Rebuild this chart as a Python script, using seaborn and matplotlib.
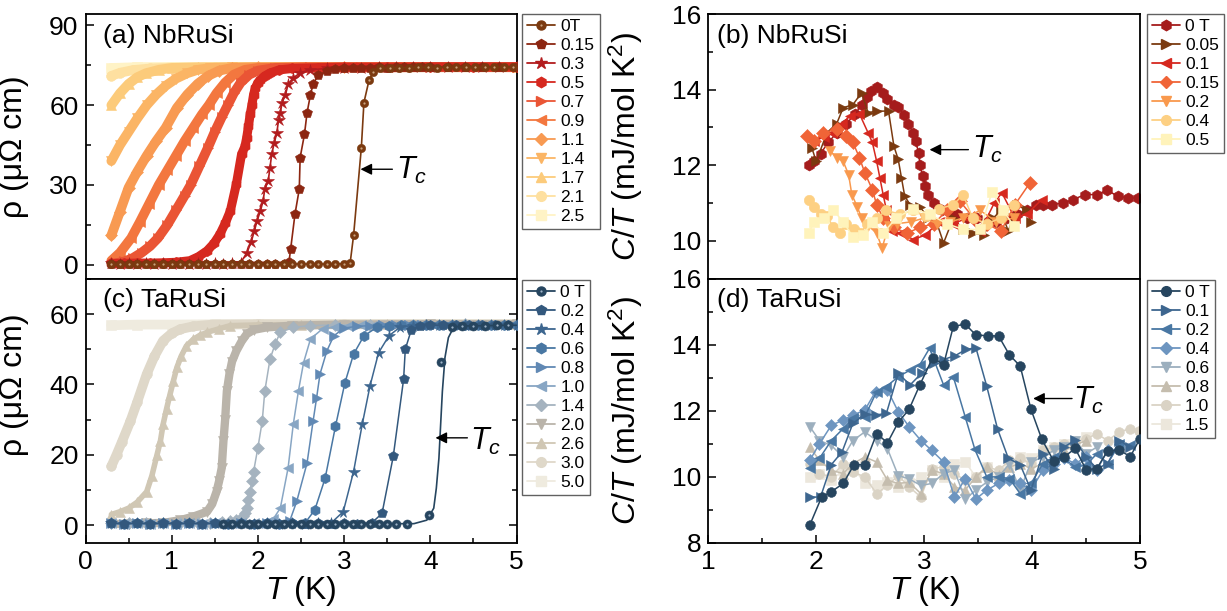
import matplotlib
matplotlib.use("Agg")
import matplotlib.pyplot as plt
from matplotlib.lines import Line2D
from matplotlib.ticker import MultipleLocator
import seaborn as sns

# ---------------- data: (a) NbRuSi resistivity ----------------
a_fields = ["0T", "0.15", "0.3", "0.5", "0.7", "0.9", "1.1", "1.4", "1.7", "2.1", "2.5"]
a_T_00 = [0.30,0.40,0.50,0.60,0.70,0.80,0.90,1.00,1.10,1.20,1.30,1.40,1.50,1.60,1.70,1.80,1.90,2.00,2.10,2.20,2.30,2.40,2.50,2.60,2.70,2.80,2.90,3.00,
          3.07,3.11,3.20,3.23,3.29,3.34,
          3.42,3.53,3.64,3.75,3.86,3.97,4.08,4.19,4.30,4.41,4.52,4.63,4.74,4.85,4.96]
a_R_00 = [0.3,0.2,0.3,0.2,0.2,0.3,0.2,0.2,0.3,0.2,0.2,0.3,0.2,0.2,0.3,0.2,0.2,0.3,0.2,0.2,0.3,0.2,0.3,0.2,0.3,0.2,0.3,0.3,
          0.6,11.0,44.0,61.0,69.5,72.5,
          73.8,74.0,74.1,74.1,74.2,74.2,74.1,74.2,74.2,74.3,74.2,74.3,74.3,74.2,74.3]
a_T_015 = [0.30,0.40,0.50,0.60,0.70,0.80,0.90,1.00,1.10,1.20,1.30,1.40,1.50,1.60,1.70,1.80,1.90,2.00,2.10,2.20,2.30,
           2.36,2.38,2.43,2.48,2.49,2.54,2.57,2.61,2.64,2.70,2.80,2.90,
           3.00,3.10,3.20,3.30,3.40,3.50,3.60,3.70,3.80,3.90,4.00,4.20,4.40,4.60,4.80,5.00]
a_R_015 = [0.4,0.3,0.4,0.3,0.4,0.3,0.4,0.3,0.4,0.3,0.4,0.3,0.4,0.3,0.4,0.3,0.4,0.3,0.4,0.3,0.4,
           0.9,5.9,19.0,28.4,40.3,49.0,57.1,64.0,67.8,71.5,72.7,73.5,
           73.8,74.0,74.1,74.1,74.2,74.1,74.2,74.2,74.3,74.2,74.3,74.3,74.2,74.3,74.3,74.3]
a_T_03 = [0.30,0.40,0.50,0.60,0.70,0.80,0.90,1.00,1.10,1.20,1.30,1.40,1.50,1.60,1.70,1.80,
          1.87,1.92,1.96,1.99,2.03,2.06,2.08,2.12,2.14,2.16,2.19,2.22,2.24,2.26,2.28,2.32,2.35,2.41,2.49,
          2.60,2.80,3.00,3.20,3.40,3.60,3.80,4.00,4.20,4.40,4.60,4.80,5.00]
a_R_03 = [0.5,0.4,0.5,0.4,0.5,0.4,0.5,0.4,0.5,0.4,0.5,0.4,0.5,0.4,0.5,0.8,
          4.3,8.4,12.8,16.5,20.3,24.0,28.4,31.5,36.5,41.5,45.9,49.6,54.6,57.1,60.9,64.0,67.8,70.3,72.1,
          73.3,73.8,74.0,74.1,74.2,74.2,74.3,74.2,74.3,74.3,74.4,74.3,74.4]
a_T_05 = [0.30,0.45,0.60,0.75,0.90,1.05,1.21,1.31,1.41,1.49,1.56,1.62,1.68,1.75,1.81,1.85,1.87,1.89,1.91,1.93,1.95,1.97,2.00,2.03,2.08,2.14,2.25,2.40,2.70,3.00,3.50,4.00,4.50,5.00]
a_R_05 = [0.5,0.5,0.6,0.6,0.7,0.9,1.5,3.0,5.2,8.0,11.5,15.5,20.2,30.3,41.5,44.5,47.8,52.0,56.5,60.0,64.0,66.5,68.5,69.6,71.0,72.1,73.3,73.8,74.1,74.3,74.3,74.4,74.4,74.4]
a_T_07 = [0.35,0.45,0.55,0.65,0.75,0.84,0.95,1.05,1.15,1.22,1.32,1.42,1.50,1.58,1.65,1.72,1.80,1.90,2.00,2.20,2.60,3.20,4.00,5.00]
a_R_07 = [0.5,1.2,2.5,4.5,7.0,10.0,15.0,20.5,26.0,30.0,37.0,44.0,50.0,55.5,60.0,64.5,68.5,71.5,73.0,74.0,74.2,74.2,74.3,74.3]
a_T_09 = [0.30,0.40,0.53,0.63,0.74,0.85,0.95,1.05,1.15,1.25,1.35,1.43,1.52,1.62,1.72,1.85,2.00,2.50,3.50,5.00]
a_R_09 = [1.5,4.5,10.0,16.0,23.0,30.0,35.5,41.0,46.5,51.5,56.5,60.0,64.5,68.5,71.5,73.3,74.0,74.2,74.3,74.3]
a_T_11 = [0.30,0.40,0.50,0.60,0.71,0.82,0.93,1.06,1.18,1.30,1.42,1.55,1.70,2.00,3.00,5.00]
a_R_11 = [11.0,20.0,29.0,35.0,41.0,46.5,51.5,59.0,64.0,68.0,71.0,73.0,74.0,74.2,74.3,74.3]
a_T_14 = [0.30,0.40,0.50,0.60,0.71,0.82,0.93,1.05,1.18,1.30,1.45,1.70,2.50,4.00,5.00]
a_R_14 = [39.0,45.0,50.0,55.0,60.0,64.0,67.3,70.0,72.0,73.3,74.0,74.2,74.3,74.3,74.3]
a_T_17 = [0.30,0.40,0.50,0.60,0.70,0.85,1.00,1.30,2.00,5.00]
a_R_17 = [60.0,64.5,68.0,70.5,72.0,73.3,74.0,74.2,74.3,74.3]
a_T_21 = [0.30,0.40,0.55,0.75,1.00,1.50,5.00]
a_R_21 = [71.0,72.2,73.2,73.8,74.1,74.3,74.3]
a_T_25 = [0.30,0.60,1.00,5.00]
a_R_25 = [74.0,74.3,74.4,74.4]

# ---------------- data: (c) TaRuSi resistivity ----------------
c_fields = ["0 T", "0.2", "0.4", "0.6", "0.8", "1.0", "1.4", "2.0", "2.6", "3.0", "5.0"]
c_T_00 = [1.60,1.70,1.80,1.90,2.00,2.10,2.20,2.30,2.40,2.50,2.60,2.70,2.80,2.90,3.00,3.10,3.20,3.30,3.40,3.50,3.60,3.73,
          3.98,4.12,
          4.25,4.37,4.50,4.64,4.77,4.90]
c_R_00 = [0.4,0.3,0.4,0.3,0.4,0.3,0.4,0.3,0.4,0.3,0.4,0.3,0.4,0.3,0.4,0.3,0.4,0.3,0.4,0.3,0.4,0.4,
          3.0,46.5,
          56.3,56.6,56.7,56.7,56.8,56.8]
c_fit_T = [1.60,3.81,3.96,4.04,4.07,4.10,4.12,4.14,4.17,4.21,4.27,4.35,5.00]
c_fit_R = [0.4,0.4,1.4,4.8,10.5,19.0,28.6,38.0,47.6,53.3,56.2,56.6,56.8]
c_T_02 = [0.30,0.45,0.60,0.75,0.90,1.05,1.20,1.35,1.50,1.65,1.80,1.95,2.10,2.25,2.40,2.55,2.70,2.85,3.00,3.15,3.32,
          3.44,3.57,3.69,3.71,3.78,
          3.88,4.00,4.15,4.30,4.45,4.60,4.75,4.90]
c_R_02 = [0.5,0.4,0.5,0.4,0.5,0.4,0.5,0.4,0.5,0.4,0.5,0.4,0.5,0.4,0.5,0.4,0.5,0.4,0.5,0.4,0.6,
          3.3,19.5,41.4,50.0,55.5,
          56.6,56.8,56.8,56.9,56.9,56.9,57.0,57.0]
c_T_04 = [0.30,0.45,0.60,0.75,0.90,1.05,1.20,1.35,1.50,1.65,1.80,1.95,2.10,2.25,2.40,2.55,2.70,2.85,
          2.99,3.11,3.21,3.30,3.40,3.52,
          3.65,3.80,3.95,4.10,4.25,4.40,4.55,4.70,4.85,5.00]
c_R_04 = [0.5,0.4,0.5,0.4,0.5,0.4,0.5,0.4,0.5,0.4,0.5,0.4,0.5,0.4,0.5,0.4,0.5,0.6,
          3.8,15.2,28.6,39.5,49.0,53.8,
          56.3,56.7,56.8,56.8,56.9,56.9,57.0,56.9,57.0,57.0]
c_T_06 = [0.30,0.45,0.60,0.75,0.90,1.05,1.20,1.35,1.50,1.65,1.80,1.95,2.10,2.25,2.40,2.55,
          2.66,2.78,2.90,3.01,3.11,3.23,
          3.38,3.52,3.66,3.80,3.95,4.10,4.25,4.40,4.55,4.70,4.85,5.00]
c_R_06 = [0.5,0.4,0.5,0.4,0.5,0.4,0.5,0.4,0.5,0.4,0.5,0.4,0.5,0.4,0.5,0.7,
          4.3,13.3,28.1,40.5,48.6,53.8,
          56.2,56.6,56.8,56.8,56.9,56.9,57.0,56.9,57.0,57.0,57.0,57.0]
c_T_08 = [0.30,0.45,0.60,0.75,0.90,1.05,1.20,1.35,1.50,1.65,1.80,1.95,2.10,2.25,2.37,
          2.45,2.57,2.64,2.68,2.72,2.80,2.88,
          3.00,3.15,3.30,3.45,3.60,3.75,3.90,4.05,4.20,4.35,4.50,4.65,4.80,4.95]
c_R_08 = [0.5,0.4,0.5,0.4,0.5,0.4,0.5,0.4,0.5,0.4,0.5,0.4,0.5,0.6,1.2,
          6.7,17.6,29.5,36.0,42.9,49.5,53.8,
          56.0,56.5,56.7,56.8,56.8,56.9,56.9,57.0,56.9,57.0,57.0,57.0,57.0,57.0]
c_T_10 = [0.30,0.45,0.60,0.75,0.90,1.05,1.20,1.35,1.50,1.65,1.80,1.95,2.10,2.18,
          2.26,2.35,2.41,2.47,2.53,2.61,
          2.75,2.90,3.05,3.20,3.35,3.50,3.65,3.80,3.95,4.10,4.25,4.40,4.55,4.70,4.85,5.00]
c_R_10 = [0.5,0.4,0.5,0.4,0.5,0.4,0.5,0.4,0.5,0.4,0.5,0.6,0.9,1.8,
          4.8,16.2,28.6,38.1,46.2,52.9,
          55.8,56.4,56.7,56.8,56.8,56.9,56.9,57.0,56.9,57.0,57.0,57.0,57.0,57.0,57.0,57.0]
c_T_14 = [0.30,0.50,0.70,0.90,1.10,1.30,1.45,1.58,1.68,1.75,1.80,1.83,1.85,1.87,1.89,1.91,1.93,1.95,2.00,2.05,2.08,2.14,2.20,2.26,2.41,2.60,2.90,3.30,3.80,4.40,5.00]
c_R_14 = [0.5,0.5,0.5,0.5,0.6,0.6,0.7,0.9,1.1,1.3,1.5,2.5,3.5,4.8,7.0,9.5,12.5,15.2,22.0,29.5,38.1,47.1,51.5,54.8,56.2,56.7,56.9,57.0,57.0,57.1,57.1]
c_T_20 = [0.30,0.50,0.70,0.90,1.10,1.25,1.41,1.47,1.52,1.55,1.58,1.60,1.62,1.64,1.67,1.70,1.75,1.81,1.87,1.95,2.10,2.40,3.00,4.00,5.00]
c_R_20 = [0.3,0.4,0.5,0.6,1.4,2.4,3.8,6.0,9.5,12.5,16.2,23.8,30.0,38.1,43.0,46.5,49.5,52.2,54.3,55.5,56.2,56.7,57.0,57.1,57.1]
c_T_26 = [0.30,0.40,0.50,0.60,0.71,0.77,0.83,0.87,0.90,0.94,0.98,1.02,1.06,1.11,1.17,1.25,1.33,1.41,1.55,1.68,2.00,2.50,3.50,5.00]
c_R_26 = [3.0,3.8,4.8,6.5,9.5,14.0,20.0,24.0,28.6,33.0,37.1,41.0,44.8,48.0,50.9,52.8,54.0,54.8,55.8,56.7,56.9,57.0,57.1,57.1]
c_T_30 = [0.30,0.36,0.42,0.52,0.60,0.71,0.80,0.90,1.00,1.10,1.25,1.48,2.00,3.00,5.00]
c_R_30 = [16.7,20.0,23.5,29.5,35.0,42.9,48.0,52.4,54.5,55.7,56.5,57.0,57.1,57.1,57.1]
c_T_50 = [0.30,0.60,1.00,1.50,2.00,3.00,5.00]
c_R_50 = [56.8,57.0,57.0,57.1,57.1,57.1,57.1]

# ---------------- data: (b) NbRuSi C/T ----------------
b_fields = ["0 T", "0.05", "0.1", "0.15", "0.2", "0.4", "0.5"]
b_T_00 = [1.93,1.98,2.04,2.11,2.19,2.28,2.36,2.42,2.47,2.51,2.56,2.62,2.66,2.72,2.76,2.81,2.85,2.90,2.92,2.95,2.96,2.99,3.01,3.04,3.09,
          3.13,3.17,3.24,3.30,3.40,3.49,3.58,3.67,3.77,3.86,3.95,4.04,4.10,4.18,4.29,4.38,4.49,4.60,4.69,4.80,4.89,4.98]
b_C_00 = [12.0,12.1,12.3,12.6,12.85,13.1,13.35,13.6,13.8,13.95,14.07,13.9,13.75,13.6,13.55,13.34,13.1,12.86,12.63,12.33,12.0,11.7,11.44,11.22,11.0,
          10.87,10.8,10.75,10.7,10.6,10.6,10.5,10.5,10.6,10.7,10.8,10.95,10.95,10.95,11.0,11.09,11.22,11.22,11.33,11.18,11.13,11.13]
b_T_005 = [1.96,2.00,2.10,2.19,2.25,2.34,2.42,2.48,2.56,2.67,2.72,2.76,2.79,2.82,2.87,2.96,3.04,3.12,3.18,3.27,3.36,3.45,3.55,3.64,3.71,3.78,3.86,3.95,3.99]
b_C_005 = [12.45,12.1,12.86,13.1,13.52,13.6,13.92,13.39,13.43,13.43,12.5,12.15,11.66,11.18,10.95,10.9,10.6,10.45,9.94,10.6,10.3,10.2,10.15,10.6,10.8,10.25,10.95,10.8,10.5]
b_T_01 = [1.98,2.07,2.15,2.24,2.31,2.40,2.48,2.52,2.56,2.59,2.62,2.65,2.70,2.79,2.90,3.01,3.14,3.27,3.40,3.52,3.65,3.72,3.84,3.95,4.09]
b_C_01 = [12.63,12.75,12.85,13.1,13.3,13.36,12.86,12.6,12.1,11.66,11.22,10.82,10.25,10.2,10.03,10.15,10.5,10.45,10.6,10.25,11.0,11.27,10.6,10.7,11.09]
b_T_015 = [1.91,1.98,2.06,2.19,2.28,2.34,2.40,2.45,2.52,2.56,2.62,2.72,2.84,2.96,3.09,3.21,3.33,3.46,3.58,3.71,3.84,3.98]
b_C_015 = [12.77,12.63,12.85,12.95,12.77,12.6,12.2,11.8,11.35,10.95,10.6,10.35,10.2,10.35,10.45,10.8,11.05,10.6,10.45,10.25,10.95,11.53]
b_T_02 = [2.13,2.19,2.25,2.30,2.33,2.38,2.42,2.48,2.56,2.61,2.67,2.75,2.88,3.00,3.12,3.24,3.36,3.52,3.67,3.83]
b_C_02 = [12.37,12.2,12.1,11.75,11.22,10.9,10.6,10.4,10.2,9.8,10.4,10.45,10.5,10.6,10.45,10.5,10.6,10.8,10.5,10.6]
b_T_04 = [1.93,1.98,2.04,2.10,2.16,2.22,2.28,2.35,2.41,2.47,2.56,2.65,2.78,2.90,3.02,3.14,3.27,3.36,3.45,3.58,3.71,3.83]
b_C_04 = [11.09,10.9,10.7,10.65,10.35,10.2,10.45,10.3,10.2,10.45,10.6,10.8,10.7,10.8,10.65,10.85,10.95,11.22,10.6,10.45,10.6,10.95]
b_T_05 = [1.93,1.98,2.07,2.16,2.25,2.34,2.43,2.52,2.62,2.74,2.90,3.05,3.21,3.36,3.52,3.63,3.73,3.83]
b_C_05 = [10.2,10.5,10.6,10.8,10.5,10.1,10.15,10.5,10.2,10.6,10.85,10.7,10.45,10.3,10.3,11.3,10.8,10.4]

# ---------------- data: (d) TaRuSi C/T ----------------
d_fields = ["0 T", "0.1", "0.2", "0.4", "0.6", "0.8", "1.0", "1.5"]
d_T_00 = [1.94,2.05,2.14,2.25,2.35,2.45,2.56,2.66,2.76,2.86,2.96,3.08,3.18,3.27,3.38,3.48,3.59,3.69,3.79,3.89,3.99,4.09,4.20,4.30,4.40,4.50,4.60,4.70,4.81,4.91,5.00]
d_C_00 = [8.54,9.39,9.55,9.80,10.37,10.37,11.31,11.03,11.65,12.04,12.78,13.61,13.39,14.55,14.62,14.29,14.27,14.26,13.69,13.35,12.04,11.14,10.48,10.61,10.86,10.22,10.25,10.79,10.81,10.61,11.16]
d_T_01 = [1.94,2.04,2.14,2.24,2.34,2.45,2.55,2.65,2.76,2.87,2.98,3.09,3.18,3.29,3.39,3.48,3.58,3.68,3.78,3.89,3.99,4.10,4.20,4.30,4.40,4.50,4.60,4.70,4.81,4.91]
d_C_01 = [9.39,9.39,10.37,10.76,11.62,11.89,11.87,11.92,13.13,12.78,13.15,13.44,13.55,13.67,13.86,13.9,12.74,11.45,10.56,10.37,9.6,10.7,10.25,10.91,11.11,10.6,10.25,10.4,11.1,10.9]
d_T_02 = [1.94,2.03,2.14,2.25,2.34,2.45,2.56,2.65,2.76,2.87,2.96,3.05,3.18,3.27,3.38,3.47,3.58,3.69,3.79,3.89,3.99,4.10,4.20,4.29,4.40,4.50,4.60,4.70,4.81,4.91]
d_C_02 = [10.26,10.56,11.1,11.46,11.77,11.82,12.58,12.73,13.03,13.23,13.39,13.89,12.78,13.03,11.82,10.83,10.0,10.0,9.95,9.49,9.8,10.4,10.6,10.56,10.3,10.35,10.7,10.4,11.0,10.96]
d_T_04 = [1.94,2.03,2.14,2.25,2.34,2.45,2.55,2.66,2.76,2.86,2.97,3.07,3.18,3.28,3.38,3.48,3.58,3.69,3.79,3.89,3.99,4.10,4.20,4.30,4.40,4.50,4.60,4.70]
d_C_04 = [10.5,11.0,11.56,11.72,11.87,12.02,12.58,12.63,11.97,11.52,11.1,10.8,10.45,9.39,9.95,9.33,9.6,9.8,9.9,9.8,9.6,10.2,10.4,10.56,10.4,10.6,10.2,10.8]
d_T_06 = [1.94,2.03,2.14,2.25,2.34,2.45,2.56,2.66,2.76,2.86,2.97,3.07,3.18,3.28,3.38,3.48,3.58,3.69,3.79,3.89,3.99,4.10,4.20,4.30,4.40,4.50,4.60]
d_C_06 = [11.52,11.1,10.95,10.6,11.1,11.36,11.1,10.85,10.04,9.94,9.74,9.8,10.1,10.2,9.33,9.6,9.84,10.0,10.4,9.6,10.45,10.6,10.8,10.9,11.1,10.7,10.9]
d_T_08 = [1.94,2.03,2.14,2.25,2.34,2.45,2.56,2.66,2.76,2.86,2.97,3.07,3.18,3.28,3.38,3.48,3.58,3.69,3.79,3.89,3.99,4.10,4.20,4.30,4.40,4.50]
d_C_08 = [10.9,10.5,10.2,10.1,10.4,10.6,10.45,9.9,9.8,9.84,9.49,10.2,10.1,9.7,9.6,10.0,10.3,10.05,10.3,10.4,10.25,10.4,10.6,10.8,10.96,11.1]
d_T_10 = [1.94,2.03,2.14,2.25,2.34,2.45,2.56,2.66,2.76,2.86,2.97,3.07,3.18,3.28,3.38,3.48,3.58,3.69,3.79,3.89,3.99,4.10,4.20,4.30,4.40,4.50,4.60,4.70,4.81,4.91,4.99]
d_C_10 = [10.4,10.1,10.0,10.4,10.15,10.0,9.49,9.74,10.04,9.7,9.39,10.25,10.3,10.1,9.9,10.0,10.3,10.2,10.5,10.56,10.4,10.8,10.9,11.0,11.05,11.15,11.3,11.1,11.36,11.46,11.4]
d_T_15 = [1.94,2.03,2.14,2.25,2.34,2.45,2.56,2.66,2.76,2.86,2.97,3.07,3.18,3.28,3.38,3.48,3.58,3.69,3.79,3.89,3.99,4.10,4.20,4.30,4.40,4.50]
d_C_15 = [10.0,10.1,9.9,10.2,10.3,9.8,9.74,9.84,9.7,9.8,10.0,10.2,10.0,10.4,10.45,10.0,10.3,9.9,10.4,10.6,10.56,10.8,10.9,11.0,11.1,11.2]

# ---------------- styling ----------------
sns.set_theme(style="ticks")
plt.rcParams['font.family'] = ['Liberation Sans', 'DejaVu Sans']
plt.rcParams['mathtext.fontset'] = 'custom'
plt.rcParams['mathtext.rm'] = 'Liberation Sans'
plt.rcParams['mathtext.it'] = 'Liberation Sans:italic'
plt.rcParams['mathtext.bf'] = 'Liberation Sans:bold'
for k in ['text.color', 'axes.labelcolor', 'xtick.color', 'ytick.color', 'axes.edgecolor']:
    plt.rcParams[k] = 'black'

a_colors = ['#7b3a10', '#8c2611', '#b21c1e', '#d6281f', '#ea5535', '#f3773f', '#f89a52', '#fbb565', '#fccb7b', '#fee0a0', '#fff3c6']
a_markers = ['o', 'p', '*', 'h', '>', '<', 'D', 'v', '^', 'o', 's']
b_colors = ['#a51c1c', '#7b3a10', '#d6281f', '#f06437', '#f9994d', '#fdd083', '#fff3bb']
b_markers = ['h', '>', '<', 'D', 'v', 'o', 's']
c_colors = ['#26455f', '#33587d', '#3d668f', '#4977a3', '#6189b4', '#88a6c4', '#a5b3bf', '#bab4aa', '#d0c7b4', '#dfd8c9', '#efebdf']
c_markers = ['o', 'p', '*', 'h', '>', '<', 'D', 'v', '^', 'o', 's']
d_colors = ['#26455f', '#3d668f', '#4977a3', '#6d95c0', '#9cafbe', '#c5bdae', '#dad3c5', '#ece7dc']
d_markers = ['o', '>', '<', 'D', 'v', '^', 'o', 's']
a_spot = '#c9a27e'
c_spot = '#9fb4c9'

W, H = 1227, 611
fig = plt.figure(figsize=(W / 100, H / 100), dpi=100)

def ax_at(x0, y0, x1, y1):
    return fig.add_axes([x0 / W, 1 - y1 / H, (x1 - x0) / W, (y1 - y0) / H])

ax_a = ax_at(85.5, 14, 516.5, 278.5)
ax_c = ax_at(85.5, 278.5, 516.5, 543)
ax_b = ax_at(708.3, 14, 1140, 278.5)
ax_d = ax_at(708.3, 278.5, 1140, 543)


def curve(ax, T, Y, color, marker, ms, lw, z=2):
    sns.lineplot(x=T, y=Y, ax=ax, color=color, marker=marker, markersize=ms,
                 markeredgecolor=color, markeredgewidth=0.4, linewidth=lw,
                 estimator=None, sort=False, legend=False, zorder=z,
                 solid_capstyle='round', solid_joinstyle='round')


def highlight(ax, T, Y, color, z=3):
    sns.lineplot(x=T, y=Y, ax=ax, color=color, marker='o', markersize=1.6,
                 markeredgewidth=0, linewidth=0, estimator=None, sort=False,
                 legend=False, zorder=z)

# ---- (a)
a_data = [(a_T_00, a_R_00), (a_T_015, a_R_015), (a_T_03, a_R_03), (a_T_05, a_R_05), (a_T_07, a_R_07),
          (a_T_09, a_R_09), (a_T_11, a_R_11), (a_T_14, a_R_14), (a_T_17, a_R_17), (a_T_21, a_R_21), (a_T_25, a_R_25)]
a_ms = [6, 7.5, 9, 7.5, 7, 7, 6, 7, 7, 7, 6.5]
a_lw = [1.2, 1.2, 1.2, 6.5, 7, 7, 7, 7, 7, 7, 7]
for i in range(len(a_data) - 1, -1, -1):
    T, R = a_data[i]
    curve(ax_a, T, R, a_colors[i], a_markers[i], a_ms[i], a_lw[i], z=2 + (11 - i) * 0.1)
highlight(ax_a, a_T_00, a_R_00, a_spot, z=4)

# ---- (c)
c_data = [(c_T_00, c_R_00), (c_T_02, c_R_02), (c_T_04, c_R_04), (c_T_06, c_R_06), (c_T_08, c_R_08),
          (c_T_10, c_R_10), (c_T_14, c_R_14), (c_T_20, c_R_20), (c_T_26, c_R_26), (c_T_30, c_R_30), (c_T_50, c_R_50)]
c_ms = [6.5, 7.5, 8.5, 7.5, 7.5, 7.5, 6, 7, 7, 7, 6.5]
c_lw = [0, 1.1, 1.1, 1.1, 1.1, 1.1, 1.1, 6, 4, 7, 7]
for i in range(len(c_data) - 1, -1, -1):
    T, R = c_data[i]
    curve(ax_c, T, R, c_colors[i], c_markers[i], c_ms[i], c_lw[i], z=2 + (11 - i) * 0.1)
sns.lineplot(x=c_fit_T, y=c_fit_R, ax=ax_c, color=c_colors[0], linewidth=1.2,
             estimator=None, sort=False, legend=False, zorder=3.5)
highlight(ax_c, c_T_00, c_R_00, c_spot, z=4)

# ---- (b)
b_data = [(b_T_00, b_C_00), (b_T_005, b_C_005), (b_T_01, b_C_01), (b_T_015, b_C_015),
          (b_T_02, b_C_02), (b_T_04, b_C_04), (b_T_05, b_C_05)]
b_ms = [8, 7.5, 7.5, 7, 7.5, 7.5, 7]
for i, (T, C) in enumerate(b_data):
    curve(ax_b, T, C, b_colors[i], b_markers[i], b_ms[i], 1.1, z=2 + i * 0.1)

# ---- (d)
d_data = [(d_T_00, d_C_00), (d_T_01, d_C_01), (d_T_02, d_C_02), (d_T_04, d_C_04),
          (d_T_06, d_C_06), (d_T_08, d_C_08), (d_T_10, d_C_10), (d_T_15, d_C_15)]
d_ms = [7, 7.5, 7.5, 6.5, 7.5, 7.5, 7, 6.5]
for i in range(len(d_data) - 1, -1, -1):
    T, C = d_data[i]
    curve(ax_d, T, C, d_colors[i], d_markers[i], d_ms[i], 1.1, z=2 + (8 - i) * 0.1)

# ---------------- axes formatting ----------------
TICK_FS = 19
LABEL_FS = 23

for ax in (ax_a, ax_c):
    ax.set_xlim(0, 5)
    ax.xaxis.set_major_locator(MultipleLocator(1))
    ax.xaxis.set_minor_locator(MultipleLocator(0.5))
for ax in (ax_b, ax_d):
    ax.set_xlim(1, 5)
    ax.xaxis.set_major_locator(MultipleLocator(1))
    ax.xaxis.set_minor_locator(MultipleLocator(0.5))

ax_a.set_ylim(-5.2, 94.3)
ax_a.yaxis.set_major_locator(MultipleLocator(30))
ax_a.yaxis.set_minor_locator(MultipleLocator(15))
ax_c.set_ylim(-5.1, 70.1)
ax_c.yaxis.set_major_locator(MultipleLocator(20))
ax_c.yaxis.set_minor_locator(MultipleLocator(10))
ax_b.set_ylim(9.0, 16.0)
ax_b.yaxis.set_major_locator(MultipleLocator(2))
ax_b.yaxis.set_minor_locator(MultipleLocator(1))
ax_d.set_ylim(8.0, 16.0)
ax_d.yaxis.set_major_locator(MultipleLocator(2))
ax_d.yaxis.set_minor_locator(MultipleLocator(1))

for ax in (ax_a, ax_b, ax_c, ax_d):
    for sp in ax.spines.values():
        sp.set_visible(True)
        sp.set_linewidth(1.3)
        sp.set_color('black')
    ax.tick_params(which='both', direction='in', width=1.1, labelsize=TICK_FS, pad=5)
    ax.tick_params(which='major', length=6)
    ax.tick_params(which='minor', length=3.5)
    ax.set_xlabel('')
    ax.set_ylabel('')

for ax in (ax_a, ax_b):
    ax.tick_params(which='both', bottom=False, labelbottom=False)
ax_c.tick_params(which='both', right=True)

ax_c.set_xlabel(r'$T$ (K)', fontsize=LABEL_FS, labelpad=0)
ax_d.set_xlabel(r'$T$ (K)', fontsize=LABEL_FS, labelpad=0)
ax_a.set_ylabel('ρ (μΩ cm)', fontsize=LABEL_FS)
ax_c.set_ylabel('ρ (μΩ cm)', fontsize=LABEL_FS)
ax_b.set_ylabel(r'$C/T$ (mJ/mol K$^2$)', fontsize=LABEL_FS)
ax_d.set_ylabel(r'$C/T$ (mJ/mol K$^2$)', fontsize=LABEL_FS)
ax_a.yaxis.set_label_coords(-0.13, 0.5)
ax_c.yaxis.set_label_coords(-0.13, 0.6)
ax_b.yaxis.set_label_coords(-0.147, 0.5)
ax_d.yaxis.set_label_coords(-0.147, 0.5)

PANEL_FS = 19
ax_a.text(0.04, 0.917, '(a) NbRuSi', transform=ax_a.transAxes, fontsize=PANEL_FS, va='center', ha='left')
ax_c.text(0.04, 0.92, '(c) TaRuSi', transform=ax_c.transAxes, fontsize=PANEL_FS, va='center', ha='left')
ax_b.text(0.02, 0.917, '(b) NbRuSi', transform=ax_b.transAxes, fontsize=PANEL_FS, va='center', ha='left')
ax_d.text(0.02, 0.918, '(d) TaRuSi', transform=ax_d.transAxes, fontsize=PANEL_FS, va='center', ha='left')

# Tc arrows
def tc(ax, head, tail_x, text_x, text_y):
    ax.annotate('', xy=head, xytext=(tail_x, head[1]),
                arrowprops=dict(arrowstyle='-|>', color='black', lw=1.0,
                                mutation_scale=17, shrinkA=0, shrinkB=0), zorder=10)
    ax.text(text_x, text_y, r'$T_c$', fontsize=22, ha='left', va='baseline', zorder=10)

tc(ax_a, (3.19, 35.9), 3.56, 3.60, 32.1)
tc(ax_c, (4.06, 24.8), 4.43, 4.46, 21.4)
tc(ax_b, (3.05, 12.41), 3.41, 3.44, 12.2)
tc(ax_d, (4.01, 12.37), 4.37, 4.38, 12.06)

# ---------------- legends ----------------
def legend(ax, labels, colors, markers, sizes, anchor, spot=None):
    handles = []
    for j, (c, m, s) in enumerate(zip(colors, markers, sizes)):
        h = Line2D([], [], color=c, marker=m, markersize=s, markeredgecolor=c, lw=1.3)
        if spot is not None and j == 0:
            hl = Line2D([], [], color=spot, marker='o', markersize=1.6, lw=0, markeredgewidth=0)
            h = (h, hl)
        handles.append(h)
    leg = ax.legend(handles, labels, loc='upper left', bbox_to_anchor=anchor, frameon=True,
                    fancybox=False, edgecolor='#3a3a3a', fontsize=12.5, handlelength=1.6,
                    handletextpad=0.3, labelspacing=0.22, borderpad=0.3, borderaxespad=0)
    leg.get_frame().set_linewidth(1.0)
    leg.get_frame().set_facecolor('white')

leg_sizes11 = [6.5, 7.5, 9, 7.5, 7.5, 7.5, 6.5, 7.5, 7.5, 7, 6.5]
legend(ax_a, a_fields, a_colors, a_markers, leg_sizes11, (1.013, 1.0), spot=a_spot)
legend(ax_c, c_fields, c_colors, c_markers, leg_sizes11, (1.013, 0.995), spot=c_spot)
legend(ax_b, b_fields, b_colors, b_markers, [7.5, 7.5, 7.5, 6.5, 7.5, 7, 6.5], (1.016, 1.0))
legend(ax_d, d_fields, d_colors, d_markers, [7, 7.5, 7.5, 6.5, 7.5, 7.5, 7, 6.5], (1.016, 0.995))

fig.savefig('out.png', dpi=100)
